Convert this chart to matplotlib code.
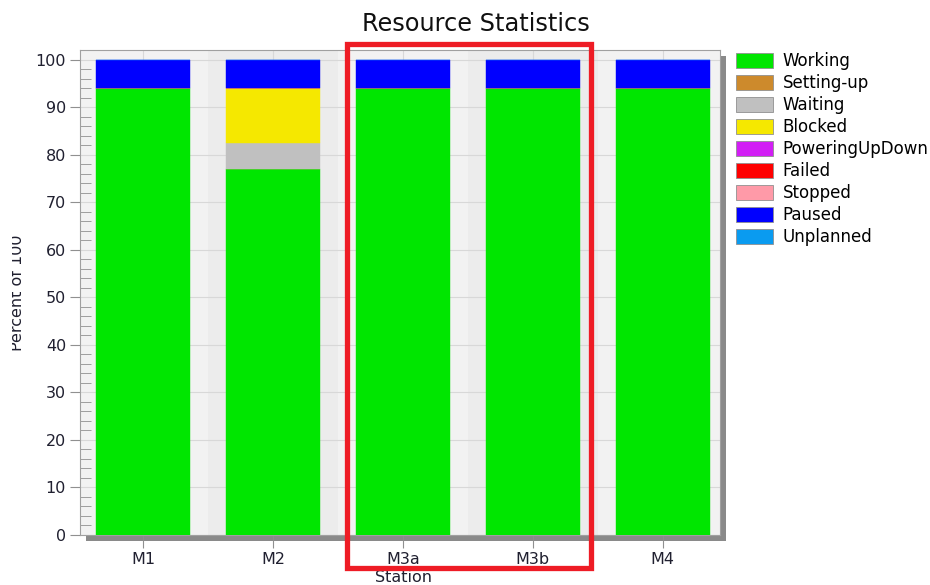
import matplotlib
matplotlib.use("Agg")
import matplotlib.pyplot as plt
from matplotlib.patches import Rectangle, Patch
from matplotlib.ticker import MultipleLocator

# data
stations = ["M1", "M2", "M3a", "M3b", "M4"]
states = ["Working", "Setting-up", "Waiting", "Blocked", "PoweringUpDown",
          "Failed", "Stopped", "Paused", "Unplanned"]
working = [94, 77, 94, 94, 94]
setting_up = [0, 0, 0, 0, 0]
waiting = [0, 5.5, 0, 0, 0]
blocked = [0, 11.5, 0, 0, 0]
powering = [0, 0, 0, 0, 0]
failed = [0, 0, 0, 0, 0]
stopped = [0, 0, 0, 0, 0]
paused = [6, 6, 6, 6, 6]
unplanned = [0, 0, 0, 0, 0]

series = [working, setting_up, waiting, blocked, powering, failed, stopped, paused, unplanned]
colors = ["#00E600", "#CD8A2C", "#C0C0C0", "#F5E800", "#D21EF5",
          "#FF0000", "#FF9AA8", "#0000FF", "#0A9BF0"]

plt.rcParams['font.family'] = ['DejaVu Sans']

W, H = 930, 585
fig = plt.figure(figsize=(9.3, 5.85), dpi=100)
fig.patch.set_facecolor("white")

l, r, b, t = 80, 720, 535, 50
ax = fig.add_axes([l / W, 1 - b / H, (r - l) / W, (b - t) / H])

# drop shadow behind the plot area
fig.patches.append(Rectangle(((l + 6) / W, 1 - (b + 6) / H), (r - l) / W, (b - t) / H,
                             transform=fig.transFigure, facecolor="#8a8a8a",
                             edgecolor="none", zorder=0))
ax.set_zorder(1)

ax.set_facecolor("#EFEFEF")
for i in range(len(stations)):
    if i % 2 == 0:
        ax.axvspan(i - 0.5, i + 0.5, color="#F2F2F2", zorder=0, lw=0)
    else:
        ax.axvspan(i - 0.5, i + 0.5, color="#ECECEC", zorder=0, lw=0)

x = list(range(len(stations)))
bottom = [0] * len(stations)
for vals, c in zip(series, colors):
    ax.bar(x, vals, 0.72, bottom=bottom, color=c, edgecolor=c, linewidth=0.3, zorder=3)
    bottom = [bb + v for bb, v in zip(bottom, vals)]

ax.set_xlim(-0.485, 4.44)
ax.set_ylim(0, 102)
ax.yaxis.set_major_locator(MultipleLocator(10))
ax.yaxis.set_minor_locator(MultipleLocator(2))
ax.grid(axis="y", which="major", color="#D8D8D8", lw=0.8, zorder=1)
ax.grid(axis="x", which="major", color="#D8D8D8", lw=0.8, zorder=1)
ax.set_axisbelow(True)

ax.set_xticks(x)
ax.set_xticklabels(stations, fontsize=11.5, color="#202030")
ax.tick_params(axis="x", length=9, color="#909090", pad=3)
ax.tick_params(axis="y", which="major", length=7, color="#909090", labelsize=11.5,
               labelcolor="#202030", pad=3)
ax.tick_params(axis="y", which="minor", length=8, direction="in", color="#909090")

for s in ax.spines.values():
    s.set_color("#A0A0A0")
    s.set_linewidth(0.8)

fig.text(476 / W, 1 - 24 / H, "Resource Statistics", fontsize=17.3, ha="center",
         va="center", color="#101010")
fig.text(403 / W, 1 - 578 / H, "Station", fontsize=11.5, ha="center", va="center",
         color="#202030")
fig.text(18 / W, 1 - 293 / H, "Percent of 100", fontsize=11.5, ha="center",
         va="center", rotation=90, color="#202030")
# the left edge of the label is cut off in the original screenshot
fig.patches.append(Rectangle((0, 0), 12 / W, 1, transform=fig.transFigure,
                             facecolor="white", edgecolor="none", zorder=5))

handles = [Patch(facecolor=c, edgecolor="#909090", linewidth=0.6) for c in colors]
fig.legend(handles, states, loc="upper left", bbox_to_anchor=(736 / W, 1 - 52 / H),
           frameon=False, fontsize=12, handlelength=2.2, handleheight=1.0,
           handletextpad=0.6, labelspacing=0.24, borderpad=0, borderaxespad=0)

# red highlight box
fig.patches.append(Rectangle((347 / W, 1 - 568 / H), 244 / W, 524 / H,
                             transform=fig.transFigure, fill=False,
                             edgecolor="#EE1C25", linewidth=3.8, zorder=10))

fig.savefig("out.png", dpi=100)
